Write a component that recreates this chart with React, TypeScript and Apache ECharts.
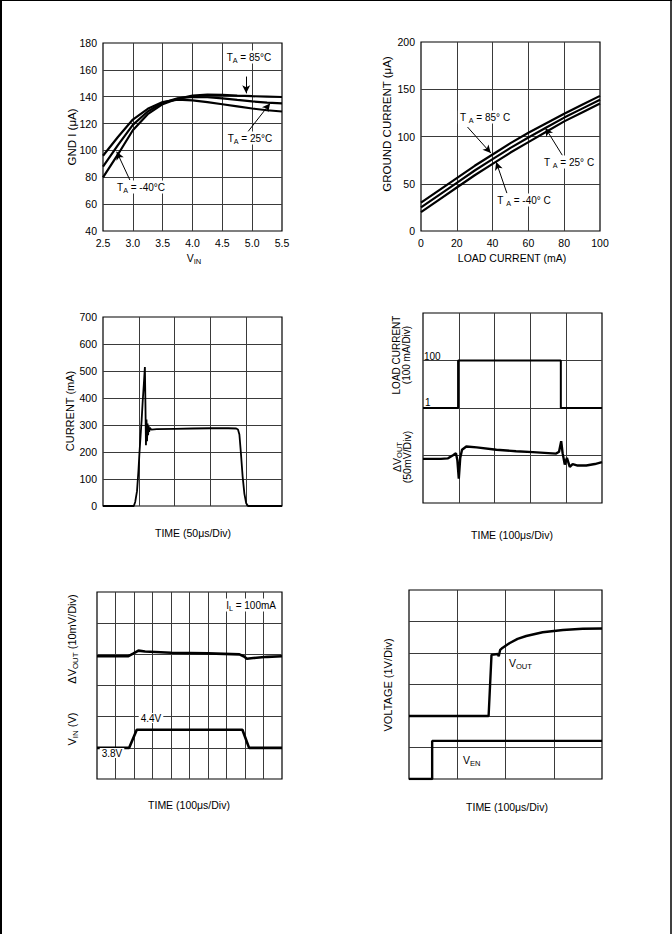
import React, { useEffect, useRef } from "react";
import * as echarts from "echarts";

const FONT = "'Liberation Sans', Arial, Helvetica, sans-serif";

// ---- Chart 1: GND I vs VIN ----
const vinX = [2.5, 2.75, 3.0, 3.25, 3.5, 3.75, 4.0, 4.25, 4.5, 4.75, 5.0, 5.25, 5.5];
const gnd85 = [80, 97, 115, 127, 134.5, 138.5, 140.8, 141.5, 141.3, 140.8, 140.4, 140.1, 139.8];
const gnd25 = [88, 104, 119, 129, 135.5, 138.8, 139.8, 139.6, 138.8, 137.6, 136.5, 135.6, 135];
const gndM40 = [96, 110, 123, 131, 136, 137.8, 137.3, 136, 134.4, 132.8, 131.2, 129.9, 129];

// ---- Chart 2: Ground current vs load current ----
const loadX = [0, 10, 20, 30, 40, 50, 60, 70, 80, 90, 100];
const g85 = [30, 43, 56, 69, 81, 93, 104, 114, 124, 133.5, 143];
const g25 = [25, 38, 51, 64, 76, 88, 99, 109.5, 120, 129.5, 139];
const gM40 = [20, 33, 46, 59, 71, 83, 94, 105, 116, 125.5, 135];

// ---- Chart 3: inrush current (time in divisions, mA) ----
const curT = [0, 0.86, 0.9, 0.95, 0.99, 1.02, 1.05, 1.08, 1.11, 1.14, 1.17, 1.185, 1.2, 1.215, 1.23, 1.245, 1.26, 1.275, 1.29, 1.31, 1.35, 1.5, 2.0, 2.5, 3.0, 3.5, 3.72, 3.77, 3.81, 3.85, 3.9, 3.95, 4.0, 4.05, 5];
const curI = [0, 0, 15, 55, 130, 200, 260, 320, 390, 450, 515, 380, 225, 320, 240, 305, 262, 296, 275, 290, 283, 285, 286, 287, 288, 288, 287, 283, 265, 200, 110, 45, 10, 0, 0];

// ---- Chart 4: load transient (divisions) ----
const ldT = [0, 0.98, 0.98, 3.85, 3.85, 5];
const ldI = [2, 2, 3, 3, 2, 2];
const voT = [0, 0.5, 0.7, 0.85, 0.92, 0.96, 1.0, 1.04, 1.09, 1.21, 1.5, 2.05, 2.6, 3.07, 3.5, 3.72, 3.8, 3.86, 3.9, 3.96, 4.02, 4.1, 4.18, 4.3, 4.56, 4.8, 5];
const voV = [0.93, 0.93, 0.94, 1.01, 1.05, 0.9, 0.51, 0.95, 1.12, 1.19, 1.17, 1.12, 1.09, 1.07, 1.05, 1.04, 1.08, 1.3, 1.05, 0.81, 0.95, 0.76, 0.82, 0.79, 0.79, 0.82, 0.86];

// ---- Chart 5: line transient (divisions) ----
const dvT = [0, 1.7, 1.95, 2.24, 2.6, 4, 6, 7.7, 7.95, 8.1, 8.45, 9.2, 10];
const dvV = [3.94, 3.94, 4.02, 4.12, 4.09, 4.05, 4.03, 4.0, 3.93, 3.86, 3.88, 3.92, 3.94];
const vinT = [0, 1.74, 2.15, 7.86, 8.22, 10];
const vinV = [1.0, 1.0, 1.58, 1.58, 1.0, 1.0];

// ---- Chart 6: enable turn-on (divisions) ----
const venT = [0, 0.48, 0.48, 4];
const venV = [0, 0, 1.21, 1.21];
const voutT = [0, 1.65, 1.71, 1.84, 1.86, 1.89, 1.92, 2.08, 2.25, 2.43, 2.77, 3.19, 3.6, 4];
const voutV = [2.0, 2.0, 3.94, 3.97, 3.9, 4.1, 4.14, 4.31, 4.45, 4.54, 4.66, 4.73, 4.77, 4.78];

const pairs = (xs: number[], ys: number[]) => xs.map((x, i) => [x, ys[i]]);

function txt(x: number, y: number, text: string, o: any = {}) {
  const size = o.size ?? 10.5;
  const style: any = {
    text,
    fill: "#000",
    fontSize: size,
    fontFamily: FONT,
    align: o.align ?? "center",
    verticalAlign: "middle",
    lineHeight: o.lh,
    rich: {
      s: { fontSize: size * 0.72, fontFamily: FONT, fill: "#000", padding: [o.subPad ?? 6, 0, 0, 0] },
      n: { fontSize: size, fontFamily: FONT, fill: "#000", lineHeight: o.lh },
    },
  };
  if (o.bg) {
    style.backgroundColor = "#fff";
    style.padding = [0, 2, 0, 2];
  }
  return {
    type: "text",
    x,
    y,
    rotation: o.rot ? Math.PI / 2 : 0,
    silent: true,
    z: 100,
    style,
  };
}

export default function App() {
  const ref = useRef<HTMLDivElement>(null);
  useEffect(() => {
    if (!ref.current) return;
    const chart = echarts.init(ref.current, undefined, { renderer: "svg" });

    const grids = [
      { left: 103, top: 43, width: 179, height: 188 },
      { left: 421, top: 42, width: 179, height: 189 },
      { left: 103, top: 317, width: 179, height: 189 },
      { left: 423, top: 313, width: 179, height: 190 },
      { left: 97, top: 592, width: 185, height: 187 },
      { left: 409, top: 590, width: 193, height: 189 },
    ].map((g) => ({ ...g, show: true, borderColor: "#000", borderWidth: 1.2, backgroundColor: "transparent" }));

    const ax = (gridIndex: number, min: number, max: number, interval: number, showLabel: boolean, formatter?: any, margin = 5) => ({
      type: "value",
      gridIndex,
      min,
      max,
      interval,
      axisLine: { show: false },
      axisTick: { show: false },
      splitLine: { show: true, showMinLine: false, showMaxLine: false, lineStyle: { color: "#3a3a3a", width: 1 } },
      axisLabel: { show: showLabel, color: "#000", fontSize: 10.5, fontFamily: FONT, margin, formatter },
    });

    const xAxis = [
      ax(0, 2.5, 5.5, 0.5, true, (v: number) => v.toFixed(1), 6),
      ax(1, 0, 100, 20, true, undefined, 6),
      ax(2, 0, 5, 1, false),
      ax(3, 0, 5, 1, false),
      ax(4, 0, 10, 1, false),
      ax(5, 0, 4, 1, false),
    ];
    const yAxis = [
      ax(0, 40, 180, 20, true, undefined, 6),
      ax(1, 0, 200, 50, true, undefined, 6),
      ax(2, 0, 700, 100, true, undefined, 6),
      ax(3, 0, 4, 1, false),
      ax(4, 0, 6, 1, false),
      ax(5, 0, 6, 1, false),
    ];

    const line = (idx: number, data: number[][], width = 2.2, extra: any = {}) => ({
      type: "line",
      xAxisIndex: idx,
      yAxisIndex: idx,
      data,
      symbol: "none",
      silent: true,
      lineStyle: { color: "#000", width },
      z: 10,
      ...extra,
    });

    const arrows = (list: number[][][]) => ({
      silent: true,
      symbol: ["none", "arrow"],
      symbolSize: [6, 8],
      label: { show: false },
      lineStyle: { color: "#000", width: 1, type: "solid" },
      data: list.map(([a, b]) => [{ coord: a }, { coord: b }]),
    });

    const series = [
      line(0, pairs(vinX, gnd85), 2.2, {
        markLine: arrows([
          [[4.9, 155], [4.9, 142.5]],
          [[4.93, 114], [5.3, 135]],
          [[2.95, 78], [2.73, 99]],
        ]),
      }),
      line(0, pairs(vinX, gnd25)),
      line(0, pairs(vinX, gndM40)),
      line(1, pairs(loadX, g85), 2.2, {
        markLine: arrows([
          [[26, 110], [39, 82.5]],
          [[79, 80], [69.5, 109]],
          [[48, 40], [42, 73]],
        ]),
      }),
      line(1, pairs(loadX, g25)),
      line(1, pairs(loadX, gM40)),
      line(2, pairs(curT, curI), 1.8),
      line(3, pairs(ldT, ldI), 2),
      line(3, pairs(voT, voV), 2.4),
      line(4, pairs(dvT, dvV), 2.6),
      line(4, pairs(vinT, vinV), 2.6),
      line(5, pairs(venT, venV), 2.4),
      line(5, pairs(voutT, voutV), 2.4),
    ];

    const graphic = [
      // page border
      { type: "line", silent: true, shape: { x1: 1, y1: 0, x2: 1, y2: 934 }, style: { stroke: "#000", lineWidth: 2 } },
      { type: "line", silent: true, shape: { x1: 0, y1: 0.5, x2: 672, y2: 0.5 }, style: { stroke: "#000", lineWidth: 1 } },
      { type: "line", silent: true, shape: { x1: 671, y1: 0, x2: 671, y2: 934 }, style: { stroke: "#000", lineWidth: 1.5 } },

      // chart 1
      txt(72, 137, "GND I (μA)", { rot: true, size: 11.5 }),
      txt(194, 258, "V{s|IN}", { size: 10.5 }),
      txt(249, 57, "T{s|A} = 85°C", { size: 10, bg: true }),
      txt(250, 138, "T{s|A} = 25°C", { size: 10, bg: true }),
      txt(141, 187, "T{s|A} = -40°C", { size: 10, bg: true }),

      // chart 2
      txt(387, 124, "GROUND CURRENT (μA)", { rot: true, size: 11.5 }),
      txt(512, 258, "LOAD CURRENT (mA)"),
      txt(485, 117, "T {s|A} = 85° C", { size: 10, bg: true }),
      txt(569, 162, "T {s|A} = 25° C", { size: 10, bg: true }),
      txt(524, 200, "T {s|A} = -40° C", { size: 10, bg: true }),

      // chart 3
      txt(70, 411, "CURRENT (mA)", { rot: true, size: 11 }),
      txt(193, 533, "TIME (50μs/Div)"),

      // chart 4
      txt(401, 355, "LOAD CURRENT\n(100 mA/Div)", { rot: true, size: 10, lh: 10 }),
      txt(402, 457, "{n|ΔV}{s|OUT}\n{n|(50mV/Div)}", { rot: true, size: 10.5, lh: 10, subPad: 5 }),
      txt(424, 356, "100", { align: "left", size: 10 }),
      txt(425, 402, "1", { align: "left", size: 10 }),
      txt(512, 535, "TIME (100μs/Div)"),

      // chart 5
      txt(72, 639, "ΔV{s|OUT} (10mV/Div)", { rot: true, size: 11 }),
      txt(72, 729, "V{s|IN} (V)", { rot: true, size: 11 }),
      txt(278, 605, "I{s|L} = 100mA", { align: "right", size: 10, bg: true }),
      txt(151, 718, "4.4V", { size: 10, bg: true }),
      txt(112, 753, "3.8V", { size: 10, bg: true }),
      txt(189, 805, "TIME (100μs/Div)"),

      // chart 6
      txt(388, 685, "VOLTAGE (1V/Div)", { rot: true, size: 11 }),
      txt(509, 663, "V{s|OUT}", { align: "left", size: 10.5 }),
      txt(463, 760, "V{s|EN}", { align: "left", size: 10.5 }),
      txt(507, 807, "TIME (100μs/Div)"),
    ];

    chart.setOption({
      animation: false,
      backgroundColor: "#fff",
      grid: grids,
      xAxis,
      yAxis,
      series,
      graphic,
    });
    return () => chart.dispose();
  }, []);

  return (
    <div
      ref={ref}
      style={{ position: "absolute", left: 0, top: 0, width: 672, height: 934, background: "#fff" }}
    />
  );
}
